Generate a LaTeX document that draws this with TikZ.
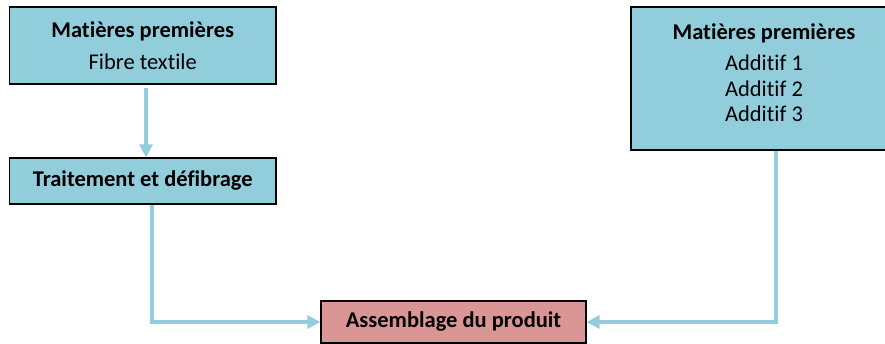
\documentclass[tikz,border=0pt]{standalone}
\usepackage{fontspec}
\setmainfont[Ligatures={NoCommon}]{Carlito}
\usetikzlibrary{arrows.meta}
\definecolor{boxblue}{HTML}{92CDDC}
\definecolor{boxpink}{HTML}{DA9694}
\definecolor{flowblue}{HTML}{93CDDD}
\tikzset{
  procbox/.style={draw=black, line width=1.2pt, fill=boxblue, align=center,
    inner sep=0pt, font=\fontsize{22.5}{25.5}\selectfont},
  flow/.style={draw=flowblue, line width=4pt, line join=miter,
    -{Triangle[length=13pt,width=13pt]}}
}
\begin{document}
\begin{tikzpicture}[x=1pt,y=-1pt]
\useasboundingbox (0,0) rectangle (885,344);
\node[procbox, minimum width=266.5pt, minimum height=77pt] (mp1) at (142.75,45.5)
  {\textbf{Matières premières}\\[6pt]Fibre textile};
\node[procbox, minimum width=266.5pt, minimum height=46pt] (trait) at (142.75,181)
  {\textbf{Traitement et défibrage}};
\node[procbox, minimum width=266pt, minimum height=143pt] (mp2) at (764,78.5)
  {\raisebox{3pt}[\height][\depth]{\begin{tabular}{@{}c@{}}\textbf{Matières premières}\\[6pt]Additif 1\\Additif 2\\Additif 3\end{tabular}}};
\node[procbox, fill=boxpink, minimum width=265pt, minimum height=42pt] (assem) at (453.5,322)
  {\textbf{Assemblage du produit}};
\draw[flow, shorten <=3pt] ([xshift=3.25pt]mp1.south) -- ([xshift=3.25pt]trait.north);
\draw[flow] ([xshift=9.25pt]trait.south) |- (assem.west);
\draw[flow] ([xshift=12pt]mp2.south) |- (assem.east);
\end{tikzpicture}
\end{document}
